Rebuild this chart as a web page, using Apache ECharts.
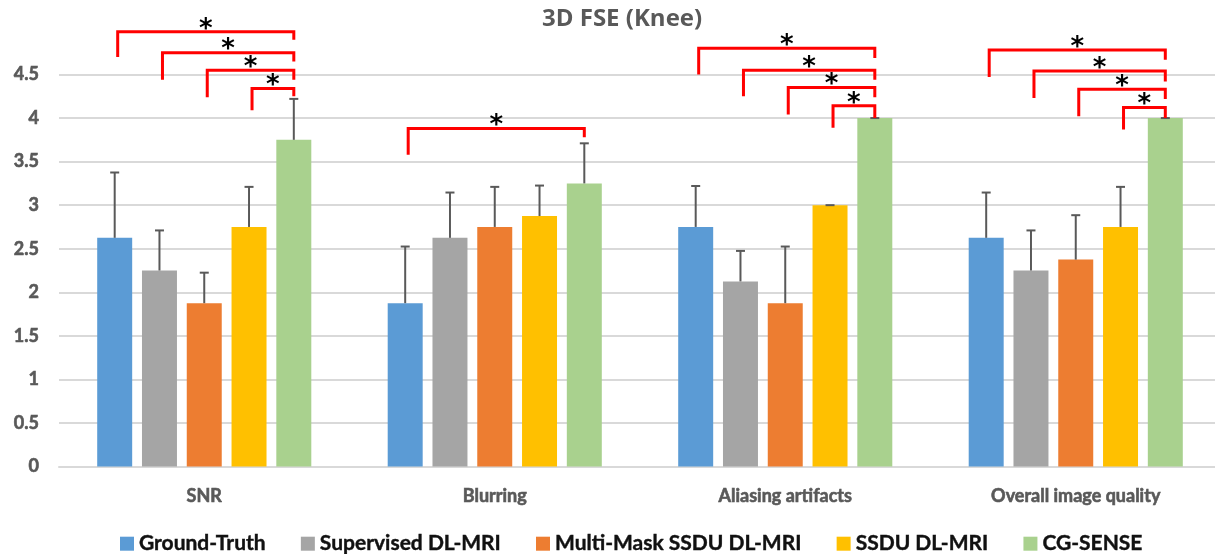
<!DOCTYPE html>
<html><head><meta charset="utf-8">
<script src="https://cdn.jsdelivr.net/npm/echarts@6/dist/echarts.min.js"></script>
<style>html,body{margin:0;padding:0;background:#fff}#c{width:1215px;height:554px}</style>
</head><body><div id="c"></div>
<script>
// ---- data ----
const categories = ['SNR', 'Blurring', 'Aliasing artifacts', 'Overall image quality'];
const seriesNames = ['Ground-Truth', 'Supervised DL-MRI', 'Multi-Mask SSDU DL-MRI', 'SSDU DL-MRI', 'CG-SENSE'];
const groundTruth = [2.625, 1.875, 2.75, 2.625];
const supervised  = [2.25, 2.625, 2.125, 2.25];
const multiMask   = [1.875, 2.75, 1.875, 2.375];
const ssdu        = [2.75, 2.875, 3.0, 2.75];
const cgSense     = [3.75, 3.25, 4.0, 4.0];
const groundTruthSD = [0.75, 0.65, 0.47, 0.52];
const supervisedSD  = [0.46, 0.52, 0.35, 0.46];
const multiMaskSD   = [0.35, 0.46, 0.65, 0.51];
const ssduSD        = [0.46, 0.35, 0.0, 0.46];
const cgSenseSD     = [0.47, 0.46, 0.0, 0.0];
const yTicks = [0, 0.5, 1, 1.5, 2, 2.5, 3, 3.5, 4, 4.5];
// significance brackets (category index, from series, to series, levels in axis units)
const bracketCategory = [0, 0, 0, 0, 1, 2, 2, 2, 2, 3, 3, 3, 3];
const bracketFrom     = [0, 1, 2, 3, 0, 0, 1, 2, 3, 0, 1, 2, 3];
const bracketTo       = [4, 4, 4, 4, 4, 4, 4, 4, 4, 4, 4, 4, 4];
const bracketTop      = [4.99, 4.75, 4.55, 4.34, 3.88, 4.80, 4.55, 4.35, 4.14, 4.78, 4.54, 4.33, 4.12];
const bracketLeftEnd  = [4.70, 4.44, 4.24, 4.09, 3.58, 4.50, 4.25, 4.04, 3.89, 4.47, 4.23, 4.02, 3.87];
const bracketRightEnd = [4.90, 4.65, 4.44, 4.25, 3.78, 4.69, 4.44, 4.24, 4.00, 4.67, 4.42, 4.22, 4.00];
const bracketLabel    = ['*', '*', '*', '*', '*', '*', '*', '*', '*', '*', '*', '*', '*'];

// ---- layout / style ----
const means = [groundTruth, supervised, multiMask, ssdu, cgSense];
const sds = [groundTruthSD, supervisedSD, multiMaskSD, ssduSD, cgSenseSD];
const colors = ['#5B9BD5', '#A5A5A5', '#ED7D31', '#FFC000', '#A9D18E'];
const N = seriesNames.length;
const CAT_GAP = 0.263, BAR_GAP = 0.28;
const FONT = 'Lato, "Open Sans", sans-serif';

function barCenter(api, cat, idx) {
  const band = api.size([1, 0])[0];
  const bw = band * (1 - CAT_GAP) / (N + (N - 1) * BAR_GAP);
  const c = api.coord([cat, 0])[0];
  return c + (idx - (N - 1) / 2) * bw * (1 + BAR_GAP);
}

const series = [];
seriesNames.forEach((name, i) => {
  series.push({
    name: name, type: 'bar', data: means[i],
    barCategoryGap: (CAT_GAP * 100) + '%', barGap: (BAR_GAP * 100) + '%',
    itemStyle: { color: colors[i] }, z: 2
  });
});
seriesNames.forEach((name, i) => {
  series.push({
    type: 'custom', z: 3, silent: true,
    data: categories.map((c, k) => [k, means[i][k], sds[i][k]]),
    encode: { x: 0, y: 1 },
    renderItem: function (params, api) {
      const cat = api.value(0), m = api.value(1), sd = api.value(2);
      const x = barCenter(api, cat, i);
      const y0 = api.coord([cat, m])[1];
      const y1 = api.coord([cat, m + sd])[1];
      const st = { stroke: '#595959', lineWidth: 2 };
      return { type: 'group', children: [
        { type: 'line', shape: { x1: x, y1: y0, x2: x, y2: y1 }, style: st },
        { type: 'line', shape: { x1: x - 4.5, y1: y1, x2: x + 4.5, y2: y1 }, style: st }
      ]};
    }
  });
});
series.push({
  type: 'custom', z: 4, silent: true, clip: false,
  data: bracketCategory.map((c, k) => [c, bracketFrom[k], bracketTo[k], bracketTop[k], bracketLeftEnd[k], bracketRightEnd[k]]),
  encode: { x: 0, y: 3 },
  renderItem: function (params, api) {
    const k = params.dataIndex;
    const cat = api.value(0);
    const x1 = barCenter(api, cat, api.value(1)) + 3;
    const x2 = barCenter(api, cat, api.value(2));
    const yT = api.coord([cat, api.value(3)])[1];
    const yL = api.coord([cat, api.value(4)])[1];
    const yR = api.coord([cat, api.value(5)])[1];
    return { type: 'group', children: [
      { type: 'polyline', shape: { points: [[x1, yL], [x1, yT], [x2, yT], [x2, yR]] },
        style: { stroke: '#FF0000', lineWidth: 3, fill: null, lineJoin: 'miter' } },
      { type: 'text', x: (x1 + x2) / 2, y: yT - 2,
        style: { text: bracketLabel[k], fill: '#000', font: 'bold 26px "DejaVu Sans"',
                 align: 'center', verticalAlign: 'middle' } }
    ]};
  }
});

const grayBold = { fontFamily: FONT, fontWeight: 'bold', color: '#595959', textBorderColor: '#595959', textBorderWidth: 0.6 };

const chart = echarts.init(document.getElementById('c'));
chart.setOption({
  animation: false,
  backgroundColor: '#fff',
  title: {
    text: '3D FSE (Knee)', left: 537, top: 2,
    textStyle: { fontFamily: '"Open Sans", Lato, sans-serif', fontWeight: 'bold', fontSize: 24, color: '#595959' }
  },
  legend: {
    data: seriesNames, left: 115, top: 528, icon: 'rect',
    itemWidth: 14, itemHeight: 14, itemGap: 35,
    textStyle: { fontFamily: FONT, fontWeight: 'bold', fontSize: 21, color: '#111',
                 textBorderColor: '#111', textBorderWidth: 0.4 }
  },
  grid: { left: 59, right: -6, top: 74.5, bottom: 87.5, containLabel: false, outerBoundsMode: 'none' },
  xAxis: {
    type: 'category', data: categories,
    axisLine: { lineStyle: { color: '#D9D9D9', width: 2 } },
    axisTick: { show: false },
    axisLabel: Object.assign({ margin: 21, fontSize: 18 }, grayBold)
  },
  yAxis: {
    type: 'value', min: yTicks[0], max: yTicks[yTicks.length - 1], interval: yTicks[1] - yTicks[0],
    axisLine: { show: false }, axisTick: { show: false },
    splitLine: { lineStyle: { color: '#D9D9D9', width: 2 } },
    axisLabel: Object.assign({ margin: 20, fontSize: 18 }, grayBold)
  },
  series: series
});
</script>
</body></html>
